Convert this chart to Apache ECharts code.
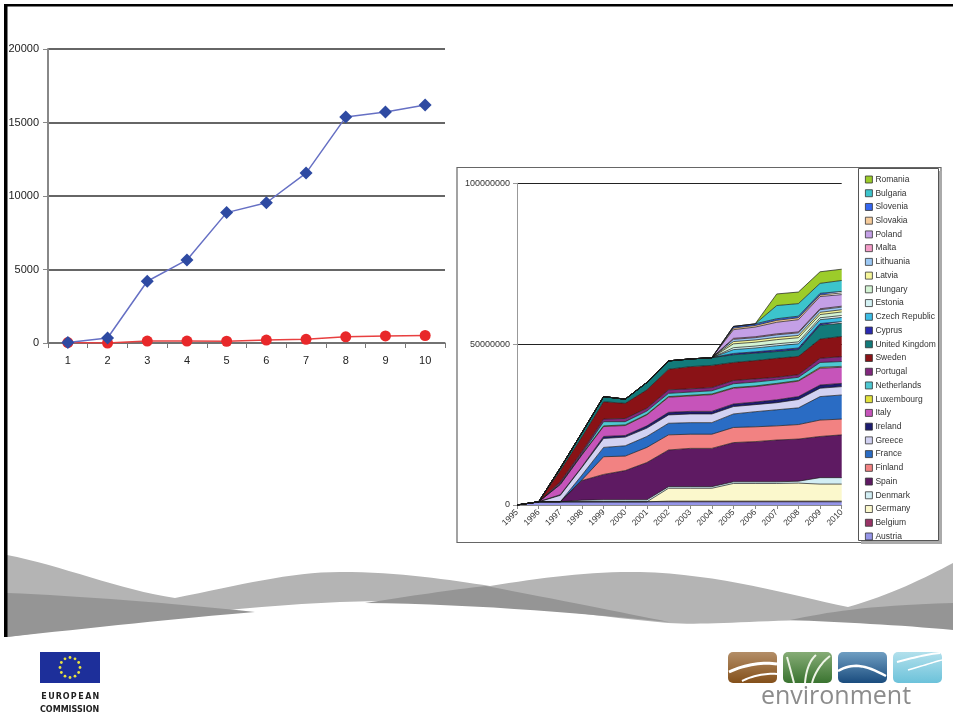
<!DOCTYPE html>
<html><head><meta charset="utf-8">
<script src="https://cdn.jsdelivr.net/npm/echarts@6/dist/echarts.min.js"></script>
<style>html,body{margin:0;padding:0;background:#fff}#c{width:953px;height:717px}</style>
</head><body><div id="c"></div><script>
// ---- Left chart data ----
const lineCategories = ['1','2','3','4','5','6','7','8','9','10'];
const blueSeries = [30, 340, 4200, 5650, 8870, 9540, 11560, 15370, 15710, 16190];
const redSeries = [30, 0, 130, 130, 120, 200, 250, 420, 480, 510];
const lineYTicks = [0, 5000, 10000, 15000, 20000];

// ---- Right chart data ----
const years = ['1995','1996','1997','1998','1999','2000','2001','2002','2003','2004','2005','2006','2007','2008','2009','2010'];
const areaYTicks = [0, 50000000, 100000000];
const countries = ['Austria','Belgium','Germany','Denmark','Spain','Finland','France','Greece','Ireland','Italy','Luxembourg','Netherlands','Portugal','Sweden','United Kingdom','Cyprus','Czech Republic','Estonia','Hungary','Latvia','Lithuania','Malta','Poland','Slovakia','Slovenia','Bulgaria','Romania'];
const countryColors = ['#9595e8','#993366','#fbf8cc','#d2eef4','#5e1a62','#f28282','#2a6cc4','#d2d2f2','#1c1c70','#c654ba','#e2e23c','#4ec8d2','#82287e','#8a1216','#127a7a','#2a2ab0','#3cbce4','#d4f2f4','#d4f4d4','#f6f69a','#9cc8f4','#f49cc8','#c4a0e6','#f6cc9c','#3466f0','#3cc4cc','#9ccc2a'];

const Austria      = [0,1.0e6,1.0e6,1.0e6,1.0e6,1.0e6,1.0e6,1.0e6,1.0e6,1.0e6,1.0e6,1.0e6,1.0e6,1.0e6,1.0e6,1.0e6];
const Belgium      = [0,0,0,0,0,0,0,0.2e6,0.2e6,0.2e6,0.2e6,0.2e6,0.2e6,0.2e6,0.2e6,0.2e6];
const Germany      = [0,0,0,0,0,0,0,4.0e6,4.0e6,4.0e6,5.5e6,5.5e6,5.5e6,5.6e6,5.3e6,5.3e6];
const Denmark      = [0,0,0,0.5e6,0.6e6,0.6e6,0.6e6,0.5e6,0.5e6,0.5e6,0.5e6,0.5e6,0.5e6,0.6e6,2.0e6,2.0e6];
const Spain        = [0,0,0,6.1e6,7.9e6,9.1e6,11.6e6,11.4e6,11.9e6,11.9e6,12.2e6,12.5e6,13.0e6,13.1e6,12.8e6,13.3e6];
const Finland      = [0,0,0,0.2e6,5.5e6,4.5e6,4.7e6,4.7e6,4.4e6,4.4e6,4.7e6,4.6e6,4.4e6,4.5e6,5.1e6,4.9e6];
const France       = [0,0,0,1.5e6,2.9e6,3.2e6,3.4e6,3.6e6,3.6e6,3.6e6,4.2e6,4.7e6,5.0e6,5.2e6,7.3e6,7.5e6];
const Greece       = [0,0,2.0e6,2.4e6,2.8e6,2.7e6,2.6e6,2.6e6,2.7e6,2.7e6,2.3e6,2.2e6,2.2e6,2.6e6,2.6e6,2.6e6];
const Ireland      = [0,0,0.2e6,0.2e6,0.6e6,0.5e6,0.7e6,0.8e6,0.8e6,0.8e6,0.8e6,0.8e6,0.9e6,0.9e6,1.0e6,1.0e6];
const Italy        = [0,0,3.2e6,3.7e6,3.1e6,3.1e6,3.4e6,4.7e6,4.8e6,5.2e6,4.9e6,4.8e6,4.9e6,4.8e6,5.2e6,5.0e6];
const Luxembourg   = [0,0,0,0.1e6,0.2e6,0.2e6,0.2e6,0.2e6,0.2e6,0.2e6,0.2e6,0.2e6,0.2e6,0.2e6,0.3e6,0.3e6];
const Netherlands  = [0,0,0.3e6,0.3e6,1.3e6,1.0e6,1.0e6,1.0e6,1.0e6,1.0e6,1.2e6,1.2e6,1.1e6,1.0e6,1.5e6,1.5e6];
const Portugal     = [0,0,0.5e6,0.6e6,0.8e6,1.0e6,0.9e6,1.1e6,1.0e6,1.0e6,1.0e6,1.0e6,0.8e6,0.8e6,1.3e6,1.5e6];
const Sweden       = [0,0,3.5e6,4.6e6,5.4e6,4.7e6,5.7e6,6.4e6,6.9e6,6.9e6,5.6e6,5.7e6,5.9e6,5.7e6,6.0e6,6.3e6];
const UnitedKingdom= [0,0,0.8e6,1.3e6,1.6e6,1.3e6,2.3e6,2.6e6,2.4e6,2.4e6,2.4e6,2.3e6,2.1e6,2.1e6,4.3e6,4.1e6];
const Cyprus       = [0,0,0,0,0,0,0,0,0,0,0.4e6,0.4e6,0.5e6,0.5e6,0.5e6,0.5e6];
const CzechRepublic= [0,0,0,0,0,0,0,0,0,0,1.2e6,1.2e6,1.3e6,1.3e6,1.2e6,1.3e6];
const Estonia      = [0,0,0,0,0,0,0,0,0,0,0.6e6,0.6e6,0.6e6,0.6e6,0.6e6,0.6e6];
const Hungary      = [0,0,0,0,0,0,0,0,0,0,1.2e6,1.2e6,1.3e6,1.3e6,1.0e6,1.1e6];
const Latvia       = [0,0,0,0,0,0,0,0,0,0,0.7e6,0.7e6,0.7e6,0.7e6,0.7e6,0.7e6];
const Lithuania    = [0,0,0,0,0,0,0,0,0,0,0.7e6,0.7e6,0.8e6,0.8e6,0.8e6,0.8e6];
const Malta        = [0,0,0,0,0,0,0,0,0,0,0.3e6,0.3e6,0.3e6,0.3e6,0.3e6,0.3e6];
const Poland       = [0,0,0,0,0,0,0,0,0,0,2.7e6,3.0e6,3.6e6,3.8e6,3.8e6,3.6e6];
const Slovakia     = [0,0,0,0,0,0,0,0,0,0,0.5e6,0.5e6,0.6e6,0.6e6,0.5e6,0.5e6];
const Slovenia     = [0,0,0,0,0,0,0,0,0,0,0.5e6,0.5e6,0.5e6,0.5e6,0.5e6,0.5e6];
const Bulgaria     = [0,0,0,0,0,0,0,0,0,0,0,0,4.1e6,3.9e6,3.1e6,3.4e6];
const Romania      = [0,0,0,0,0,0,0,0,0,0,0,0,3.6e6,3.6e6,3.6e6,3.5e6];

const areaValues = [Austria,Belgium,Germany,Denmark,Spain,Finland,France,Greece,Ireland,Italy,Luxembourg,Netherlands,Portugal,Sweden,UnitedKingdom,Cyprus,CzechRepublic,Estonia,Hungary,Latvia,Lithuania,Malta,Poland,Slovakia,Slovenia,Bulgaria,Romania];

const chart = echarts.init(document.getElementById('c'));
const numFmt = v => String(v);

const areaSeries = countries.map((name, i) => ({
  name: name, type: 'line', stack: 'total', xAxisIndex: 1, yAxisIndex: 1,
  symbol: 'none', showSymbol: false, z: 3,
  lineStyle: { width: 0.7, color: '#1a1a1a' },
  itemStyle: { color: countryColors[i] },
  areaStyle: { color: countryColors[i], opacity: 1 },
  emphasis: { disabled: true },
  data: areaValues[i]
}));

// --- decoration helpers: sample simple "M/C/L/Z" path strings into point lists ---
function pathPoints(d) {
  const toks = d.match(/[MCLZ]|-?\d*\.?\d+/g);
  const pts = []; let cmd = null, i = 0, cx = 0, cy = 0;
  while (i < toks.length) {
    const t = toks[i];
    if (/[MCLZ]/.test(t)) { cmd = t; i++; if (cmd === 'Z') continue; }
    if (cmd === 'M' || cmd === 'L') {
      cx = +toks[i]; cy = +toks[i + 1]; i += 2; pts.push([cx, cy]);
    } else if (cmd === 'C') {
      const x1 = +toks[i], y1 = +toks[i+1], x2 = +toks[i+2], y2 = +toks[i+3], x = +toks[i+4], y = +toks[i+5];
      i += 6;
      for (let s = 1; s <= 16; s++) {
        const u = s / 16, v = 1 - u;
        pts.push([v*v*v*cx + 3*v*v*u*x1 + 3*v*u*u*x2 + u*u*u*x, v*v*v*cy + 3*v*v*u*y1 + 3*v*u*u*y2 + u*u*u*y]);
      }
      cx = x; cy = y;
    } else { i++; }
  }
  return pts;
}
const graphics = [];
const fillShape = (d, fill) => graphics.push({ type: 'polygon', silent: true, z: 0, shape: { points: pathPoints(d) }, style: { fill: fill } });
const strokeShape = (d, w, c) => graphics.push({ type: 'polyline', silent: true, z: 1, shape: { points: pathPoints(d) }, style: { fill: 'none', stroke: c || '#fff', lineWidth: w } });

// slide frame
graphics.push({ type: 'rect', shape: { x: 4, y: 4, width: 949, height: 2.5 }, style: { fill: '#000' }, silent: true, z: 10 });
graphics.push({ type: 'rect', shape: { x: 4, y: 4, width: 3.5, height: 633 }, style: { fill: '#000' }, silent: true, z: 10 });
// right chart outer box
graphics.push({ type: 'rect', shape: { x: 457, y: 167.5, width: 484, height: 375 }, style: { fill: 'none', stroke: '#666', lineWidth: 1.2 }, silent: true, z: 0 });
// legend box + shadow
graphics.push({ type: 'rect', shape: { x: 861, y: 171, width: 81, height: 373 }, style: { fill: '#aaa' }, silent: true, z: 0 });
graphics.push({ type: 'rect', shape: { x: 858.5, y: 168.5, width: 80, height: 372 }, style: { fill: '#fff', stroke: '#555', lineWidth: 1 }, silent: true, z: 0 });
// waves
fillShape('M7 555 C 60 565, 120 590, 175 598 C 240 585, 290 572, 340 572 C 400 572, 450 580, 490 586 C 540 578, 590 571, 640 572 C 720 574, 790 595, 848 607 C 890 595, 925 578, 953 563 L 953 608 C 900 610, 860 618, 800 620 C 740 622, 700 625, 668 623 C 600 617, 540 607, 490 605 C 440 602, 390 600, 340 602 C 240 606, 120 622, 7 637 Z', '#b4b4b4');
fillShape('M7 593 C 80 596, 170 603, 255 612 C 180 618, 90 628, 7 637 Z', '#959595');
fillShape('M 365 603 C 410 596, 450 590, 486 586 C 560 600, 620 612, 669 622 C 600 615, 480 604, 365 603 Z', '#959595');
fillShape('M 790 620 C 830 612, 860 606, 953 603 L 953 630 C 900 625, 840 622, 790 620 Z', '#959595');
// EU logo
graphics.push({ type: 'rect', silent: true, shape: { x: 40, y: 652, width: 60, height: 31 }, style: { fill: '#1d2f9a' } });
for (let k = 0; k < 12; k++) {
  const a = k * Math.PI / 6;
  graphics.push({ type: 'circle', silent: true, shape: { cx: 70 + 10 * Math.cos(a), cy: 667.5 + 10 * Math.sin(a), r: 1.4 }, style: { fill: '#e8e040' } });
}
'EUROPEAN'.split('').forEach((ch, k) => {
  graphics.push({ type: 'text', silent: true, style: { text: ch, x: 44 + k * 7.4, y: 697, font: 'bold 8px "DejaVu Sans"', fill: '#222', textAlign: 'center', textVerticalAlign: 'middle' } });
});
graphics.push({ type: 'text', silent: true, style: { text: 'COMMISSION', x: 40, y: 710, font: 'bold 8px "DejaVu Sans"', fill: '#222', textVerticalAlign: 'middle' } });
// environment logo
const grad = (c1, c2) => new echarts.graphic.LinearGradient(0, 0, 0, 1, [{ offset: 0, color: c1 }, { offset: 1, color: c2 }]);
graphics.push({ type: 'rect', silent: true, shape: { x: 728, y: 652, width: 49, height: 31, r: 5 }, style: { fill: grad('#b38e68', '#84501a') } });
graphics.push({ type: 'rect', silent: true, shape: { x: 783, y: 652, width: 49, height: 31, r: 5 }, style: { fill: grad('#86ac76', '#3a7430') } });
graphics.push({ type: 'rect', silent: true, shape: { x: 838, y: 652, width: 49, height: 31, r: 5 }, style: { fill: grad('#6f9ec2', '#1a4c7e') } });
graphics.push({ type: 'rect', silent: true, shape: { x: 893, y: 652, width: 49, height: 31, r: 5 }, style: { fill: grad('#b2e0ec', '#6cc2da') } });
strokeShape('M 729 672 C 745 664, 765 662, 777 664', 3);
strokeShape('M 742 681 C 752 676, 765 673, 777 674', 2);
strokeShape('M 794 683 C 791 672, 789 664, 787 657', 2, '#eef4e6');
strokeShape('M 805 683 C 806 670, 810 660, 816 655', 2, '#eef4e6');
strokeShape('M 812 683 C 815 672, 822 662, 830 656', 2, '#eef4e6');
strokeShape('M 838 671 C 852 663, 864 664, 886 676', 2.5);
strokeShape('M 897 662 C 912 658, 928 654, 940 653', 2);
strokeShape('M 908 670 C 922 666, 934 662, 942 660', 1.5);
graphics.push({ type: 'text', silent: true, style: { text: 'environment', x: 836, y: 697, font: '25px "Open Sans"', fill: '#8c8c8c', textAlign: 'center', textVerticalAlign: 'middle' } });

const option = {
  backgroundColor: '#fff',
  animation: false,
  textStyle: { fontFamily: 'Arial, "Liberation Sans", sans-serif' },
  graphic: graphics,
  legend: {
    orient: 'vertical', left: 860, top: 170, itemWidth: 7, itemHeight: 7, itemGap: 4.73,
    icon: 'rect', selectedMode: false, z: 5,
    itemStyle: { borderColor: '#333', borderWidth: 0.8 },
    textStyle: { fontSize: 8.5, color: '#333', padding: [0, 0, 0, -2] },
    data: countries.slice().reverse()
  },
  grid: [
    { left: 48, top: 49, width: 397, height: 294 },
    { left: 517, top: 183.3, width: 324.7, height: 321.7 }
  ],
  xAxis: [
    { type: 'category', gridIndex: 0, data: lineCategories, boundaryGap: true,
      axisLine: { lineStyle: { color: '#777', width: 1.5 } },
      axisTick: { show: true, length: 5, lineStyle: { color: '#777' } },
      axisLabel: { fontSize: 11, color: '#222', margin: 12 },
      splitLine: { show: false } },
    { type: 'category', gridIndex: 1, data: years, boundaryGap: false,
      axisLine: { lineStyle: { color: '#888', width: 1 } },
      axisTick: { show: true, length: 4, lineStyle: { color: '#888' } },
      axisLabel: { fontSize: 8.5, color: '#333', rotate: 45, interval: 0, margin: 6 },
      splitLine: { show: false } }
  ],
  yAxis: [
    { type: 'value', gridIndex: 0, min: lineYTicks[0], max: lineYTicks[lineYTicks.length - 1], interval: lineYTicks[1] - lineYTicks[0],
      axisLine: { show: true, lineStyle: { color: '#888', width: 2 } },
      axisTick: { show: true, length: 5, lineStyle: { color: '#888' } },
      axisLabel: { fontSize: 11, color: '#222', margin: 9, formatter: numFmt },
      splitLine: { show: true, lineStyle: { color: '#333', width: 1.5 } } },
    { type: 'value', gridIndex: 1, min: areaYTicks[0], max: areaYTicks[areaYTicks.length - 1], interval: areaYTicks[1] - areaYTicks[0],
      axisLine: { show: true, lineStyle: { color: '#999', width: 1 } },
      axisTick: { show: true, length: 4, lineStyle: { color: '#999' } },
      axisLabel: { fontSize: 9, color: '#333', margin: 7, formatter: numFmt },
      splitLine: { show: true, lineStyle: { color: '#222', width: 1 } } }
  ],
  series: [
    { name: 'Series1', type: 'line', xAxisIndex: 0, yAxisIndex: 0, data: blueSeries,
      symbol: 'diamond', symbolSize: 13, z: 4,
      lineStyle: { color: '#6670c4', width: 1.5 },
      itemStyle: { color: '#2e4aa2' } },
    { name: 'Series2', type: 'line', xAxisIndex: 0, yAxisIndex: 0, data: redSeries,
      symbol: 'circle', symbolSize: 11, z: 3,
      lineStyle: { color: '#e84040', width: 1.5 },
      itemStyle: { color: '#e8282a' } }
  ].concat(areaSeries)
};
chart.setOption(option);
</script></body></html>
